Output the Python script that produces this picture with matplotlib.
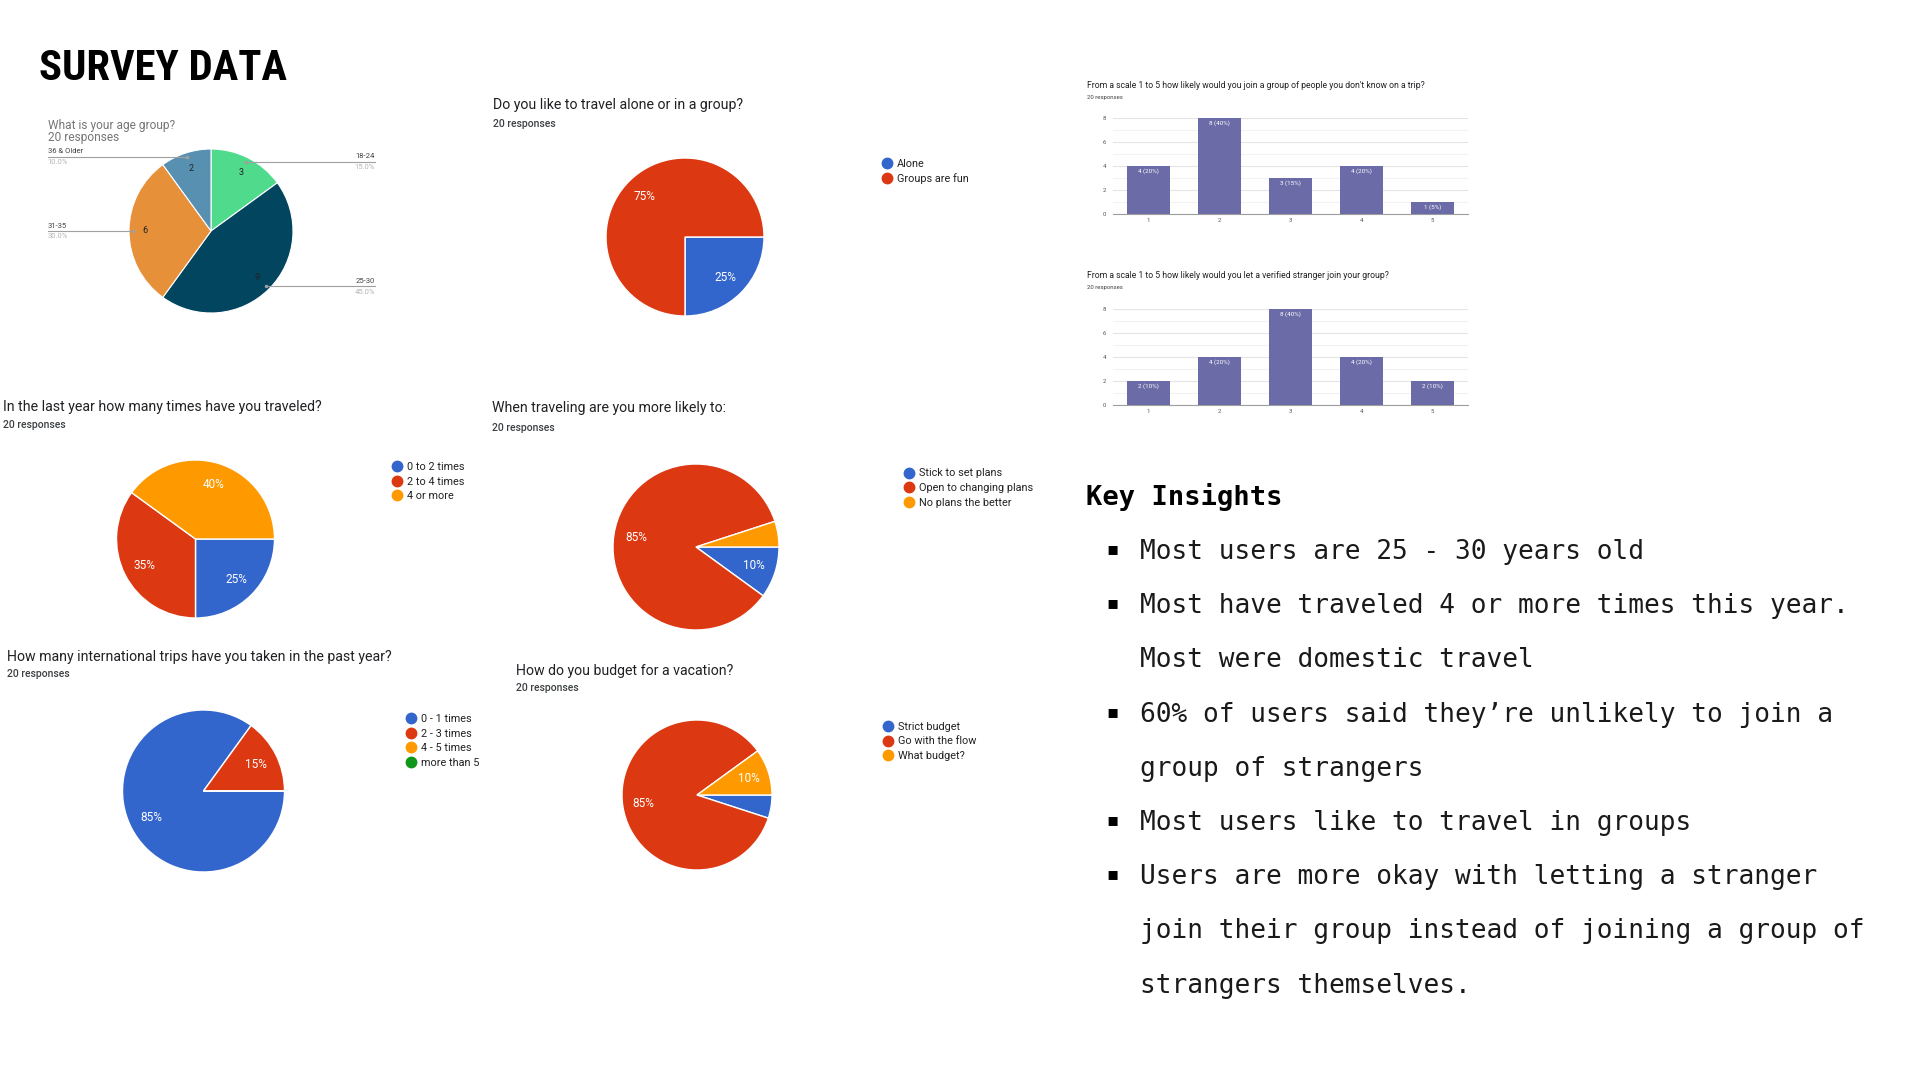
import os
import numpy as np
import matplotlib
matplotlib.use('Agg')
import matplotlib.pyplot as plt
from matplotlib import font_manager
from matplotlib.font_manager import FontProperties
from matplotlib.lines import Line2D

# ---- data ----
n_responses = 20

age_labels = ['18-24', '25-30', '31-35', '36 & Older']
age_counts = [3, 9, 6, 2]

mode_labels = ['Alone', 'Groups are fun']
mode_pct = [25, 75]

trips_labels = ['0 to 2 times', '2 to 4 times', '4 or more']
trips_pct = [25, 35, 40]

plans_labels = ['Stick to set plans', 'Open to changing plans', 'No plans the better']
plans_pct = [10, 85, 5]

intl_labels = ['0 - 1 times', '2 - 3 times', '4 - 5 times', 'more than 5']
intl_pct = [85, 15, 0, 0]

budget_labels = ['Strict budget', 'Go with the flow', 'What budget?']
budget_pct = [5, 85, 10]

scale = [1, 2, 3, 4, 5]
join_strangers = [4, 8, 3, 4, 1]
let_stranger_join = [2, 4, 8, 4, 2]

insights = [
    ["Most users are 25 - 30 years old"],
    ["Most have traveled 4 or more times this year.", "Most were domestic travel"],
    ["60% of users said they\u2019re unlikely to join a", "group of strangers"],
    ["Most users like to travel in groups"],
    ["Users are more okay with letting a stranger",
     "join their group instead of joining a group of",
     "strangers themselves."],
]

# ---- style ----
BLUE, RED, ORANGE, GREEN = '#3366cc', '#dc3912', '#ff9900', '#109618'
age_colors = ['#50da8c', '#02455f', '#e6913a', '#5890b1']
BAR = '#6b6ba8'

W, H = 1920, 1080
plt.rcParams['font.family'] = ['Roboto', 'DejaVu Sans']
fig = plt.figure(figsize=(19.2, 10.8), dpi=100)
fig.patch.set_facecolor('white')

canvas = fig.add_axes([0, 0, 1, 1])
canvas.set_xlim(0, W)
canvas.set_ylim(H, 0)
canvas.axis('off')


def font_file(*stems):
    files = {os.path.splitext(os.path.basename(f.fname))[0].lower(): f.fname
             for f in font_manager.fontManager.ttflist}
    for s in stems:
        if s.lower() in files:
            return FontProperties(fname=files[s.lower()])
    return None


title_fp = font_file('NotoSans-ExtraCondensedBold', 'NotoSans-CondensedBold',
                     'LiberationSansNarrow-Bold', 'RobotoCondensed-Bold',
                     'DejaVuSansCondensed-Bold') or FontProperties(family='DejaVu Sans', weight='bold')
head_fp = font_file('NotoSansMono-Bold', 'DejaVuSansMono-Bold') or \
    FontProperties(family='DejaVu Sans Mono', weight='bold')
body_fp = font_file('NotoSansMono-Light', 'NotoSansMono-Regular', 'DejaVuSansMono') or \
    FontProperties(family='DejaVu Sans Mono')


def px_axes(x0, y0, x1, y1):
    return fig.add_axes([x0 / W, 1 - y1 / H, (x1 - x0) / W, (y1 - y0) / H])


def fit_width(texts, ref, target):
    r = fig.canvas.get_renderer()
    w = ref.get_window_extent(r).width
    for t in texts:
        t.set_fontsize(t.get_fontsize() * target / w)


def google_pie(cx, cy, r, values, colors, labels, leg_xy, leg_step, title, title_xy, sub_xy):
    ax = px_axes(cx - r, cy - r, cx + r, cy + r)
    ax.pie(values, colors=colors, startangle=0, counterclock=False,
           autopct=lambda p: f"{p:.0f}%" if p >= 6 else "", pctdistance=0.73,
           wedgeprops=dict(edgecolor='white', linewidth=1),
           textprops=dict(color='white', fontsize=8.5))
    ax.set_xlim(-1, 1)
    ax.set_ylim(-1, 1)
    ax.set_aspect('equal')
    canvas.text(title_xy[0], title_xy[1], title, fontsize=10.2, color='#202124', va='center')
    canvas.text(sub_xy[0], sub_xy[1], f"{n_responses} responses", fontsize=7.5,
                fontweight='medium', color='#3c4043', va='center')
    handles = [Line2D([], [], marker='o', ls='', markersize=7.5,
                      markerfacecolor=c, markeredgecolor=c) for c in colors]
    n = len(labels)
    fig.legend(handles, labels, loc='center left',
               bbox_to_anchor=((leg_xy[0] - 4) / W, 1 - (leg_xy[1] + (n - 1) * leg_step / 2) / H),
               frameon=False, fontsize=7.8, handlelength=0.8, handletextpad=0.45,
               labelspacing=0.42, borderpad=0, borderaxespad=0, labelcolor='#222222')


def bar_chart(ytop, ybot, values, title, title_y, sub_y):
    ax = px_axes(1113, ytop, 1468, ybot)
    total = sum(values)
    ax.bar(scale, values, width=0.61, color=BAR, zorder=3)
    for x, v in zip(scale, values):
        ax.text(x, v - 0.15, f"{v} ({v * 100 // total}%)", ha='center', va='top',
                color='white', fontsize=4.5, zorder=4)
    ax.set_xlim(0.5, 5.5)
    ax.set_ylim(0, 8)
    ax.set_yticks([0, 2, 4, 6, 8])
    ax.set_yticks([1, 3, 5, 7], minor=True)
    ax.set_xticks(scale)
    ax.grid(axis='y', which='major', color='#e4e4e4', lw=0.8, zorder=0)
    ax.grid(axis='y', which='minor', color='#f2f2f2', lw=0.8, zorder=0)
    for s in ['top', 'right', 'left']:
        ax.spines[s].set_visible(False)
    ax.spines['bottom'].set_color('#9e9e9e')
    ax.tick_params(which='both', length=0, labelsize=4.3, colors='#555555')
    ax.tick_params(axis='y', pad=5)
    ax.tick_params(axis='x', pad=3)
    canvas.text(1087, title_y, title, fontsize=6.2, color='#202124', va='center')
    canvas.text(1087, sub_y, f"{n_responses} responses", fontsize=4.3, color='#3c4043', va='center')


# ---- title ----
t_title = canvas.text(39, 80, 'SURVEY DATA', fontproperties=title_fp, fontsize=30,
                      color='black', va='baseline')
fit_width([t_title], t_title, 247)

# ---- age pie ----
acx, acy, ar = 211, 231, 82
ax_age = px_axes(acx - ar, acy - ar, acx + ar, acy + ar)
total_age = sum(age_counts)
wedges, _, _ = ax_age.pie(age_counts, colors=age_colors, startangle=90, counterclock=False,
                          autopct=lambda p: f"{p * total_age / 100:.0f}", pctdistance=0.8,
                          wedgeprops=dict(edgecolor='white', linewidth=0.8),
                          textprops=dict(color='#222222', fontsize=6.5))
ax_age.set_xlim(-1, 1)
ax_age.set_ylim(-1, 1)
ax_age.set_aspect('equal')
for w, lab, cnt in zip(wedges, age_labels, age_counts):
    mid = np.deg2rad((w.theta1 + w.theta2) / 2)
    x0, y0 = 0.95 * np.cos(mid), 0.95 * np.sin(mid)
    xe = 2.0 if x0 > 0 else -1.99
    ha = 'right' if x0 > 0 else 'left'
    ax_age.plot([x0, xe], [y0, y0], color='#a0a0a0', lw=0.8, clip_on=False)
    ax_age.plot([x0], [y0], 'o', color='#a0a0a0', ms=1.5, clip_on=False)
    ax_age.text(xe, y0 + 0.03, lab, ha=ha, va='bottom', fontsize=5.5, color='#444444')
    ax_age.text(xe, y0 - 0.03, f"{cnt / total_age * 100:.1f}%", ha=ha, va='top',
                fontsize=5.5, color='#b5b5b5')
canvas.text(48, 125, 'What is your age group?', fontsize=8.6, color='#767676', va='center')
canvas.text(48, 137, f"{n_responses} responses", fontsize=8.6, color='#767676', va='center')

# ---- google form pies ----
google_pie(685, 237, 79, mode_pct, [BLUE, RED], mode_labels, (887, 163), 17,
           'Do you like to travel alone or in a group?', (493, 105), (493, 124))
google_pie(195.5, 539, 79, trips_pct, [BLUE, RED, ORANGE], trips_labels, (397, 465), 16.7,
           'In the last year how many times have you traveled?', (3, 407), (3, 425))
google_pie(696, 547, 83, plans_pct, [BLUE, RED, ORANGE], plans_labels, (909, 470), 18,
           'When traveling are you more likely to:', (492, 408), (492, 428))
google_pie(203.5, 791, 81, intl_pct, [BLUE, RED, ORANGE, GREEN], intl_labels, (411, 715), 17.3,
           'How many international trips have you taken in the past year?', (7, 657), (7, 674))
google_pie(697, 795, 75, budget_pct, [BLUE, RED, ORANGE], budget_labels, (888, 725), 16.5,
           'How do you budget for a vacation?', (516, 671), (516, 688))

# ---- bar charts ----
bar_chart(118, 214, join_strangers,
          "From a scale 1 to 5 how likely would you join a group of people you don't know on a trip?",
          86, 97)
bar_chart(309, 405, let_stranger_join,
          'From a scale 1 to 5 how likely would you let a verified stranger join your group?',
          276, 288)

# ---- key insights ----
t_head = canvas.text(1086, 505, 'Key Insights', fontproperties=head_fp, fontsize=20,
                     color='black', va='baseline')
fit_width([t_head], t_head, 196)

body = []
ref = None
baseline = 559
step = 54.2
for item in insights:
    canvas.text(1112, baseline - 10, '\u25aa', family='DejaVu Sans', fontsize=13,
                color='black', ha='center', va='center')
    for line in item:
        t = canvas.text(1140, baseline, line, fontproperties=body_fp, fontsize=20,
                        color='#1a1a1a', va='baseline')
        body.append(t)
        if line.startswith('Most have traveled'):
            ref = t
        baseline += step
fit_width(body, ref, 708)

fig.savefig('out.png', dpi=100, facecolor='white')
